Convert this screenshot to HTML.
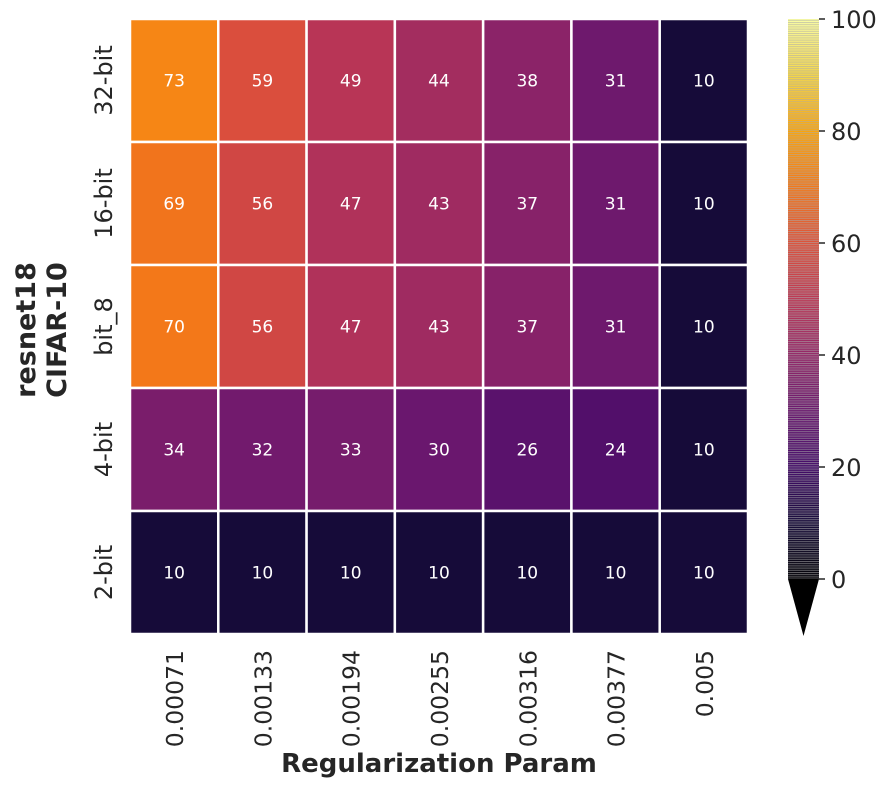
<!DOCTYPE html>
<html><head><meta charset="utf-8"><style>
body{margin:0;background:#fff;}
svg text{font-family:"DejaVu Sans","Liberation Sans",sans-serif;}
</style></head><body>
<svg id="c" width="887" height="788" xmlns="http://www.w3.org/2000/svg">
<defs>
<linearGradient id="cg" x1="0" y1="1" x2="0" y2="0">
<stop offset="0" stop-color="#000004"/><stop offset="0.1" stop-color="#160b39"/><stop offset="0.2" stop-color="#420a68"/><stop offset="0.3" stop-color="#6a176e"/><stop offset="0.4" stop-color="#932667"/><stop offset="0.5" stop-color="#bc3754"/><stop offset="0.6" stop-color="#dd513a"/><stop offset="0.7" stop-color="#f37819"/><stop offset="0.8" stop-color="#fca50a"/><stop offset="0.9" stop-color="#f6d746"/><stop offset="1" stop-color="#fcffa4"/>
</linearGradient>
<pattern id="stripes" width="10" height="2.2" patternUnits="userSpaceOnUse"><rect width="10" height="1" fill="#aaaaaa" fill-opacity="0.6"/></pattern>
</defs>
</svg>
<script>
const rows = ["32-bit","16-bit","bit_8","4-bit","2-bit"];
const cols = ["0.00071","0.00133","0.00194","0.00255","0.00316","0.00377","0.005"];
const values = [
 [73,59,49,44,38,31,10],
 [69,56,47,43,37,31,10],
 [70,56,47,43,37,31,10],
 [34,32,33,30,26,24,10],
 [10,10,10,10,10,10,10]
];
const cbTicks = [0,20,40,60,80,100];
const stops=["#000004","#160b39","#420a68","#6a176e","#932667","#bc3754","#dd513a","#f37819","#fca50a","#f6d746","#fcffa4"];
function hex(h){return [1,3,5].map(i=>parseInt(h.substr(i,2),16));}
function inferno(v){let t=Math.max(0,Math.min(1,v/100))*10;let i=Math.min(9,Math.floor(t));let f=t-i;let a=hex(stops[i]),b=hex(stops[i+1]);return "rgb("+a.map((x,k)=>Math.round(x+(b[k]-x)*f)).join(",")+")";}
const svg=document.getElementById('c');const NS="http://www.w3.org/2000/svg";
function mk(tag,attrs,txt){const e=document.createElementNS(NS,tag);for(const k in attrs)e.setAttribute(k,attrs[k]);if(txt!==undefined)e.textContent=txt;svg.appendChild(e);return e;}
const X0=130,X1=748,Y0=19,Y1=634;
const cw=(X1-X0)/cols.length, rh=(Y1-Y0)/rows.length;
const xs=j=>X0+j*cw, ys=i=>Y0+i*rh;
rows.forEach((r,i)=>{cols.forEach((c,j)=>{
 const v=values[i][j];
 const el=mk('rect',{x:xs(j),y:ys(i),width:cw,height:rh,fill:inferno(v),stroke:'#fff','stroke-width':2.5});
 
 
 const t=mk('text',{x:xs(j)+cw/2,y:ys(i)+rh/2+6,'text-anchor':'middle','font-size':17,fill:'#fff'},String(v));
 
 
});
 const yl=mk('text',{transform:`translate(112,${ys(i)+rh/2}) rotate(-90)`,'text-anchor':'middle','font-size':24,fill:'#262626'},r);
 
 
});
cols.forEach((c,j)=>{
 const t=mk('text',{transform:`translate(${xs(j)+cw/2+9},650) rotate(-90)`,'text-anchor':'end','font-size':23.5,fill:'#262626'},c);
 
 
});
const xt=mk('text',{x:439,y:772,'text-anchor':'middle','font-size':26,'font-weight':'bold',fill:'#262626'},'Regularization Param');


const yt1=mk('text',{transform:'translate(35,330) rotate(-90)','text-anchor':'middle','font-size':27,'font-weight':'bold',fill:'#262626'},'resnet18');


const yt2=mk('text',{transform:'translate(66,330) rotate(-90)','text-anchor':'middle','font-size':27,'font-weight':'bold',fill:'#262626'},'CIFAR-10');


const CB0=579,CB1=19,cbx=788,cbw=31;
const cy=v=>CB0+(CB1-CB0)*v/100;
const cb=mk('rect',{x:cbx,y:CB1,width:cbw,height:CB0-CB1,fill:'url(#cg)'});


const cbs=mk('rect',{x:cbx,y:CB1,width:cbw,height:CB0-CB1,fill:'url(#stripes)'});


const tri=mk('polygon',{points:`${cbx},${CB0} ${cbx+cbw},${CB0} ${cbx+cbw/2},636`,fill:'#000'});


cbTicks.forEach(v=>{
 const l=mk('line',{x1:cbx+cbw,x2:cbx+cbw+6,y1:cy(v),y2:cy(v),stroke:'#262626','stroke-width':1.5});
 
 
 const t=mk('text',{x:cbx+cbw+12,y:cy(v)+9,'font-size':24,fill:'#262626'},String(v));
 
 
});
</script>
</body></html>
